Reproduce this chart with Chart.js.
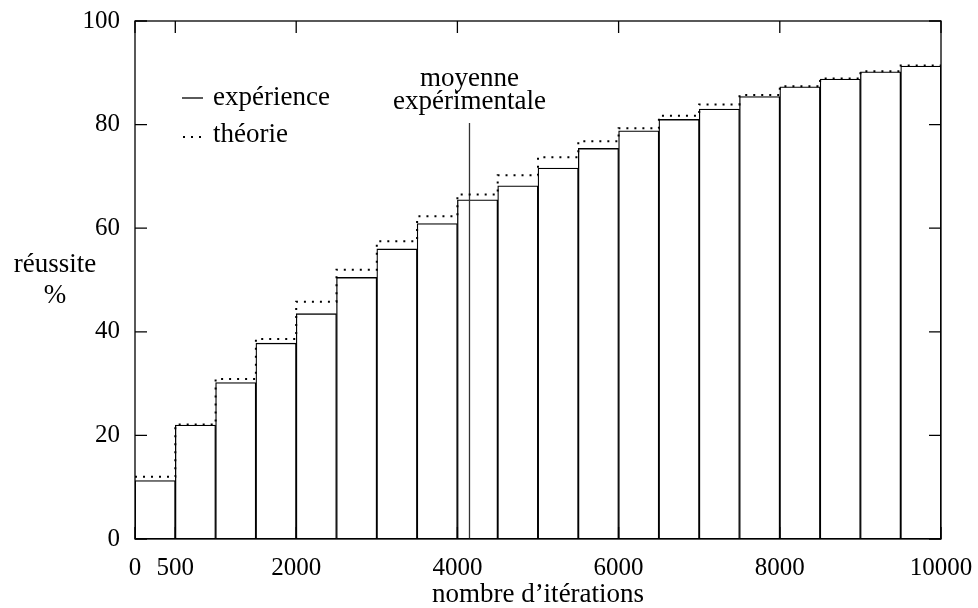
<!DOCTYPE html>
<html>
<head>
<meta charset="utf-8">
<script src="https://cdn.jsdelivr.net/npm/chart.js@4"></script>
<style>
  html, body { margin: 0; padding: 0; background: #fff; }
  #wrap { width: 978px; height: 608px; }
</style>
</head>
<body>
<div id="wrap"><canvas id="chart" width="978" height="608"></canvas></div>
<script>
// debut de chaque intervalle d'iterations (largeur 500)
const binStarts = [0, 500, 1000, 1500, 2000, 2500, 3000, 3500, 4000, 4500,
                   5000, 5500, 6000, 6500, 7000, 7500, 8000, 8500, 9000, 9500];
const binWidth = 500;
// taux de reussite mesure (%)
const experience = [11.3, 22.0, 30.2, 37.8, 43.5, 50.5, 56.0, 60.9, 65.5, 68.2,
                    71.6, 75.4, 78.8, 81.0, 83.0, 85.4, 87.3, 88.8, 90.2, 91.3];
// taux de reussite theorique (%)
const theorie = [12.0, 22.1, 30.9, 38.6, 45.8, 52.0, 57.5, 62.3, 66.5, 70.2,
                 73.7, 76.8, 79.3, 81.7, 83.9, 85.7, 87.4, 88.9, 90.3, 91.4];
// moyenne experimentale
const moyenneX = 4150;
const moyenneTop = 80.3;
// graduations
const xTicks = [0, 500, 2000, 4000, 6000, 8000, 10000];
const yTicks = [0, 20, 40, 60, 80, 100];

const FONT = '"Liberation Serif", "DejaVu Serif", serif';

// barres centrees sur chaque intervalle
const barData = binStarts.map((x, i) => ({ x: x + binWidth / 2, y: experience[i] }));
// marches pour la theorie
const theoData = binStarts.map((x, i) => ({ x: x, y: theorie[i] }));
theoData.push({ x: binStarts[binStarts.length - 1] + binWidth, y: theorie[theorie.length - 1] });

// cadre, graduations interieures, legende et textes
const decorPlugin = {
    id: 'decor',
    afterDraw(chart) {
        const ctx = chart.ctx;
        const a = chart.chartArea;
        const xs = chart.scales.x;
        const ys = chart.scales.y;
        const tl = 12;
        ctx.save();
        ctx.strokeStyle = '#000';
        ctx.lineWidth = 1.3;
        ctx.strokeRect(a.left, a.top, a.right - a.left, a.bottom - a.top);
        ctx.beginPath();
        yTicks.forEach(v => {
            const py = ys.getPixelForValue(v);
            ctx.moveTo(a.left, py); ctx.lineTo(a.left + tl, py);
            ctx.moveTo(a.right, py); ctx.lineTo(a.right - tl, py);
        });
        xTicks.forEach(v => {
            const px = xs.getPixelForValue(v);
            ctx.moveTo(px, a.top); ctx.lineTo(px, a.top + tl);
            ctx.moveTo(px, a.bottom); ctx.lineTo(px, a.bottom - tl);
        });
        ctx.stroke();

        ctx.fillStyle = '#000';
        ctx.font = '27px ' + FONT;
        ctx.textBaseline = 'alphabetic';

        // texte de la moyenne
        const mx = xs.getPixelForValue(moyenneX);
        ctx.textAlign = 'center';
        ctx.fillText('moyenne', mx, 86);
        ctx.fillText('expérimentale', mx, 109);

        // titres des axes
        ctx.fillText('réussite', 55, 272);
        ctx.fillText('%', 55, 303);
        ctx.fillText('nombre d\u2019itérations', (a.left + a.right) / 2, 602);

        // legende
        ctx.textAlign = 'left';
        ctx.fillText('expérience', 213, 105);
        ctx.fillText('théorie', 213, 142);
        ctx.lineWidth = 1.3;
        ctx.beginPath();
        ctx.moveTo(182, 98); ctx.lineTo(203, 98);
        ctx.stroke();
        [184, 192, 200].forEach(dx => ctx.fillRect(dx - 1, 136, 2, 2));
        ctx.restore();
    }
};

const ctx = document.getElementById('chart').getContext('2d');
new Chart(ctx, {
    type: 'bar',
    data: {
        datasets: [
            {
                type: 'line',
                label: 'théorie',
                data: theoData,
                stepped: true,
                borderColor: '#000',
                borderWidth: 2,
                borderDash: [2, 6],
                pointRadius: 0,
                fill: false,
                order: 0
            },
            {
                type: 'line',
                label: 'moyenne expérimentale',
                data: [{ x: moyenneX, y: 0 }, { x: moyenneX, y: moyenneTop }],
                borderColor: '#333',
                borderWidth: 1.3,
                pointRadius: 0,
                fill: false,
                order: 1
            },
            {
                label: 'expérience',
                data: barData,
                backgroundColor: '#fff',
                borderColor: '#000',
                borderWidth: 1.3,
                borderSkipped: false,
                barPercentage: 1,
                categoryPercentage: 1,
                order: 2
            }
        ]
    },
    options: {
        responsive: false,
        animation: false,
        layout: { padding: { top: 21, right: 37, bottom: 0, left: 0 } },
        plugins: {
            legend: { display: false },
            tooltip: { enabled: false }
        },
        scales: {
            x: {
                type: 'linear',
                offset: false,
                min: 0,
                max: 10000,
                afterFit: s => { s.height = 69; s.paddingLeft = 0; s.paddingRight = 0; },
                afterBuildTicks: s => { s.ticks = xTicks.map(v => ({ value: v })); },
                grid: { display: false, drawTicks: false },
                border: { display: false },
                ticks: {
                    color: '#000',
                    padding: 14,
                    maxRotation: 0,
                    autoSkip: false,
                    font: { family: FONT, size: 25 },
                    callback: v => String(v)
                }
            },
            y: {
                min: 0,
                max: 100,
                afterFit: s => { s.width = 135; s.paddingTop = 0; s.paddingBottom = 0; },
                afterBuildTicks: s => { s.ticks = yTicks.map(v => ({ value: v })); },
                grid: { display: false, drawTicks: false },
                border: { display: false },
                ticks: {
                    color: '#000',
                    padding: 15,
                    font: { family: FONT, size: 25 },
                    callback: v => String(v)
                }
            }
        }
    },
    plugins: [decorPlugin]
});
</script>
</body>
</html>
